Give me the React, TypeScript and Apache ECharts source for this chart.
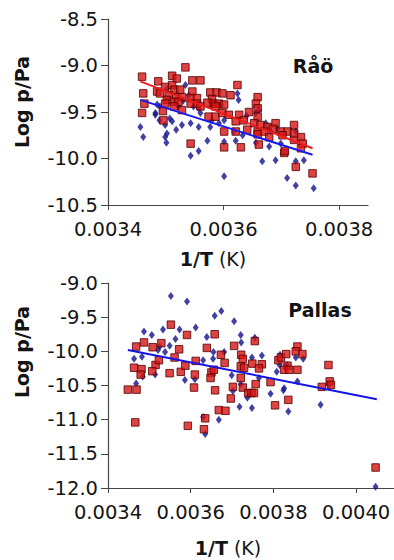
import React, { useEffect, useRef } from "react";
import * as echarts from "echarts";

// ---- Data ----
const raoXTicks = [0.0034, 0.0036, 0.0038];
const pallasXTicks = [0.0034, 0.0036, 0.0038, 0.004];

const raoRed: number[][] = [
  [0.003459, -9.12], [0.003487, -9.17], [0.003511, -9.11], [0.003519, -9.14], [0.003534, -9.02],
  [0.003546, -9.16], [0.00356, -9.16], [0.003499, -9.23], [0.003511, -9.21], [0.003515, -9.26],
  [0.003525, -9.26], [0.003485, -9.28], [0.00349, -9.3], [0.003461, -9.3], [0.003505, -9.32],
  [0.003518, -9.34], [0.003528, -9.34], [0.003546, -9.28], [0.003502, -9.37], [0.003514, -9.39],
  [0.003522, -9.39], [0.003543, -9.35], [0.003554, -9.35], [0.003577, -9.29], [0.003588, -9.29],
  [0.00358, -9.36], [0.003463, -9.41], [0.003499, -9.41], [0.003514, -9.44], [0.003543, -9.41],
  [0.003554, -9.41], [0.00356, -9.44], [0.003572, -9.4], [0.003583, -9.41], [0.003495, -9.49],
  [0.003528, -9.48], [0.003459, -9.51], [0.003496, -9.59], [0.003574, -9.55], [0.003586, -9.55],
  [0.003624, -9.21], [0.003598, -9.3], [0.003612, -9.32], [0.003659, -9.34], [0.003656, -9.41],
  [0.003592, -9.41], [0.003601, -9.42], [0.003586, -9.44], [0.003659, -9.46], [0.003598, -9.51],
  [0.003609, -9.53], [0.003627, -9.53], [0.003644, -9.5], [0.003659, -9.55], [0.003635, -9.59],
  [0.003621, -9.6], [0.003653, -9.62], [0.003664, -9.64], [0.003676, -9.66], [0.00369, -9.62],
  [0.003685, -9.68], [0.003699, -9.71], [0.003711, -9.71], [0.003601, -9.71], [0.003621, -9.71],
  [0.003641, -9.69], [0.003659, -9.71], [0.003722, -9.64], [0.003734, -9.77], [0.00367, -9.71],
  [0.003679, -9.77], [0.003702, -9.75], [0.003722, -9.8], [0.003737, -9.84], [0.003661, -9.85],
  [0.00363, -9.88], [0.003601, -9.88], [0.003543, -9.84], [0.003705, -9.94], [0.003706, -9.92],
  [0.003725, -10.09], [0.003754, -10.16], [0.003734, -9.89], [0.003659, -9.74], [0.003722, -9.73],
];

const raoBlue: number[][] = [
  [0.003456, -9.66], [0.003461, -9.77], [0.003482, -9.53], [0.003489, -9.59], [0.003502, -9.25],
  [0.003499, -9.64], [0.003499, -9.77], [0.003518, -9.69], [0.003528, -9.64], [0.003534, -9.21],
  [0.00354, -9.32], [0.003485, -9.42], [0.00349, -9.44], [0.003522, -9.44], [0.003548, -9.44],
  [0.003557, -9.46], [0.003482, -9.51], [0.003507, -9.57], [0.003511, -9.6], [0.003557, -9.66],
  [0.003543, -9.62], [0.00358, -9.59], [0.003502, -9.73], [0.003624, -9.3], [0.00358, -9.41],
  [0.003595, -9.42], [0.003661, -9.48], [0.003656, -9.51], [0.003601, -9.59], [0.003592, -9.62],
  [0.003693, -9.68], [0.003725, -9.71], [0.003577, -9.66], [0.003501, -9.83], [0.003572, -9.81],
  [0.003557, -9.92], [0.003543, -9.97], [0.003601, -9.82], [0.003621, -9.81], [0.003633, -9.75],
  [0.003656, -9.83], [0.003679, -9.87], [0.003699, -9.84], [0.003667, -10.03], [0.00369, -10.02],
  [0.003725, -10.03], [0.003739, -10.02], [0.003601, -10.19], [0.00371, -10.21], [0.003725, -10.29],
  [0.003756, -10.32], [0.003618, -9.71], [0.003682, -9.71], [0.00353, -9.38], [0.00356, -9.51],
  [0.00364, -9.54], [0.003673, -9.62], [0.003626, -9.37],
];

const raoRedFit: number[][] = [[0.003456, -9.17], [0.003754, -9.89]];
const raoBlueFit: number[][] = [[0.003456, -9.37], [0.003754, -9.96]];

const pallasRed: number[][] = [
  [0.003448, -10.56], [0.003469, -10.56], [0.003468, -9.93], [0.003463, -10.24], [0.003487, -9.87],
  [0.003508, -9.94], [0.003529, -9.88], [0.003572, -9.97], [0.003639, -9.95], [0.003705, -9.92],
  [0.003552, -9.61], [0.003591, -9.76], [0.003658, -9.75], [0.003561, -10.09], [0.003612, -10.14],
  [0.003673, -10.05], [0.003682, -10.17], [0.003722, -10.05], [0.003726, -10.11], [0.003481, -10.26],
  [0.003479, -10.34], [0.003515, -10.2], [0.003523, -10.13], [0.003507, -10.29], [0.003549, -10.32],
  [0.003576, -10.3], [0.003587, -10.21], [0.00361, -10.34], [0.00365, -10.31], [0.003656, -10.27],
  [0.003648, -10.39], [0.003721, -10.22], [0.003729, -10.24], [0.003721, -10.39], [0.003702, -10.52],
  [0.003726, -10.53], [0.003608, -10.53], [0.003659, -10.57], [0.003697, -10.69], [0.003668, -10.86],
  [0.003684, -10.87], [0.003466, -11.04], [0.003593, -11.09], [0.003635, -10.98], [0.003632, -11.14],
  [0.003739, -10.61], [0.003747, -10.61], [0.003755, -9.85], [0.003749, -10.18], [0.003772, -10.19],
  [0.003765, -10.25], [0.003757, -10.48], [0.003793, -10.45], [0.003812, -10.13], [0.003818, -10.09],
  [0.003831, -10.04], [0.003858, -9.93], [0.003854, -10.0], [0.00387, -10.04], [0.003834, -10.21],
  [0.003826, -10.27], [0.003838, -10.27], [0.003858, -10.27], [0.003933, -10.2], [0.003917, -10.52],
  [0.003936, -10.44], [0.003939, -10.49], [0.003804, -10.79], [0.003836, -10.71], [0.004047, -11.7],
  [0.003753, -10.61],
];

const pallasBlue: number[][] = [
  [0.003552, -9.19], [0.003591, -9.27], [0.003658, -9.48], [0.003674, -9.41], [0.003705, -9.56],
  [0.003487, -9.71], [0.003506, -9.76], [0.003533, -9.68], [0.003573, -9.68], [0.003612, -9.65],
  [0.003563, -9.82], [0.003549, -9.92], [0.003525, -9.93], [0.003521, -9.98], [0.003639, -9.79],
  [0.003681, -10.01], [0.003721, -9.76], [0.003722, -9.87], [0.003748, -10.09], [0.003463, -10.11],
  [0.003482, -10.08], [0.003654, -10.11], [0.003514, -10.34], [0.003468, -10.47], [0.00361, -10.41],
  [0.003721, -10.48], [0.003755, -9.8], [0.003772, -10.06], [0.003815, -10.2], [0.003854, -10.09],
  [0.003872, -10.11], [0.003765, -10.39], [0.003858, -10.44], [0.003826, -10.54], [0.003934, -10.49],
  [0.00363, -10.96], [0.003635, -11.21], [0.003668, -11.0], [0.003718, -10.81], [0.003737, -10.68],
  [0.003748, -10.83], [0.003793, -10.62], [0.003824, -10.57], [0.003836, -10.88], [0.003914, -10.78],
  [0.004047, -11.98], [0.003586, -10.42], [0.003699, -10.35], [0.003808, -10.3], [0.003816, -10.05],
  [0.003832, -10.2], [0.003702, -10.58], [0.003538, -10.01], [0.00363, -10.13], [0.003655, -10.01],
  [0.003484, -10.37],
];

const pallasBlueFit: number[][] = [[0.003448, -9.98], [0.00405, -10.7]];

const FONT = "DejaVu Sans";
const TEXT = "#141414";
const AXIS = "#474747";
const RED = "#d81414";
const RED_BORDER = "#520000";
const NAVY = "#11118f";

function xAxisCfg(gridIndex: number, max: number, ticks: number[]) {
  return {
    gridIndex,
    type: "value",
    min: 0.0034,
    max,
    axisLine: { show: true, onZero: false, lineStyle: { color: AXIS, width: 1.2 } },
    axisTick: { show: true, length: 5, customValues: ticks, lineStyle: { color: AXIS } },
    axisLabel: {
      customValues: ticks,
      formatter: (v: number) => v.toFixed(4),
      margin: 14,
      fontFamily: FONT,
      fontSize: 19.5,
      color: TEXT,
    },
    splitLine: { show: false },
  };
}

function yAxisCfg(gridIndex: number, min: number, max: number) {
  return {
    gridIndex,
    type: "value",
    min,
    max,
    interval: 0.5,
    axisLine: { show: true, onZero: false, lineStyle: { color: AXIS, width: 1.2 } },
    axisTick: { show: true, length: 7, lineStyle: { color: AXIS } },
    axisLabel: {
      formatter: (v: number) => v.toFixed(1),
      margin: 10,
      fontFamily: FONT,
      fontSize: 19.5,
      color: TEXT,
    },
    splitLine: { show: false },
  };
}

function redSeries(i: number, data: number[][]) {
  return {
    type: "scatter",
    xAxisIndex: i,
    yAxisIndex: i,
    data,
    symbol: "rect",
    symbolSize: 7.5,
    itemStyle: { color: RED, borderColor: RED_BORDER, borderWidth: 1 },
    z: 3,
  };
}

function blueSeries(i: number, data: number[][]) {
  return {
    type: "scatter",
    xAxisIndex: i,
    yAxisIndex: i,
    data,
    symbol: "diamond",
    symbolSize: [6, 8],
    itemStyle: { color: NAVY },
    z: 2,
  };
}

function fitSeries(i: number, data: number[][], color: string) {
  return {
    type: "line",
    xAxisIndex: i,
    yAxisIndex: i,
    data,
    symbol: "none",
    showSymbol: false,
    lineStyle: { color, width: 2 },
    z: 4,
  };
}

function label(text: string, x: number, y: number, rotate = 0) {
  return {
    type: "text",
    x,
    y,
    rotation: rotate,
    style: {
      text,
      fontFamily: FONT,
      fontWeight: "bold",
      fontSize: 19,
      fill: TEXT,
      align: "center",
      verticalAlign: "middle",
    },
    z: 10,
  };
}

function xTitle(x: number, y: number) {
  return {
    type: "text",
    x,
    y,
    style: {
      text: "{b|1/T} {n|(K)}",
      align: "center",
      verticalAlign: "middle",
      rich: {
        b: { fontFamily: FONT, fontWeight: "bold", fontSize: 19, fill: TEXT },
        n: { fontFamily: FONT, fontWeight: "normal", fontSize: 19, fill: TEXT },
      },
      fontFamily: FONT,
      fontSize: 19,
      fill: TEXT,
    },
    z: 10,
  };
}

export default function App() {
  const ref = useRef<HTMLDivElement>(null);
  useEffect(() => {
    if (!ref.current) return;
    const chart = echarts.init(ref.current, null, { renderer: "svg" });
    chart.setOption({
      animation: false,
      backgroundColor: "#ffffff",
      grid: [
        { left: 108, top: 19, width: 260, height: 186, containLabel: false, outerBoundsMode: "none" },
        { left: 108, top: 283, width: 289.5, height: 205, containLabel: false, outerBoundsMode: "none" },
      ],
      xAxis: [xAxisCfg(0, 0.00385, raoXTicks), xAxisCfg(1, 0.0041, pallasXTicks)],
      yAxis: [yAxisCfg(0, -10.5, -8.5), yAxisCfg(1, -12, -9)],
      series: [
        blueSeries(0, raoBlue),
        redSeries(0, raoRed),
        fitSeries(0, raoBlueFit, "#1a1af0"),
        fitSeries(0, raoRedFit, "#f01a1a"),
        blueSeries(1, pallasBlue),
        redSeries(1, pallasRed),
        fitSeries(1, pallasBlueFit, "#1414e6"),
      ],
      graphic: [
        label("Råö", 313, 66),
        label("Pallas", 320, 310),
        label("Log p/Pa", 22, 102, Math.PI / 2),
        label("Log p/Pa", 22, 352, Math.PI / 2),
        xTitle(213, 259),
        xTitle(228, 548),
      ],
    });
    return () => chart.dispose();
  }, []);
  return (
    <div
      ref={ref}
      style={{ position: "fixed", left: 0, top: 0, width: 394, height: 560, background: "#fff" }}
    />
  );
}
